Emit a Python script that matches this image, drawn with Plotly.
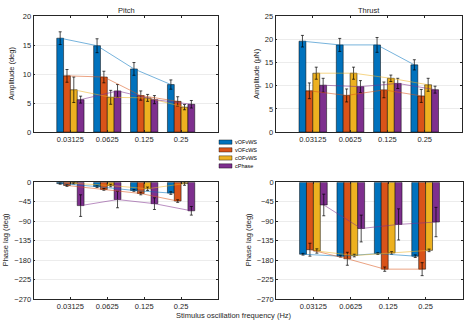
import plotly.graph_objects as go

freq_labels = ["0.03125", "0.0625", "0.125", "0.25"]
series = ["vOFvWS", "vOFcWS", "cOFvWS", "cPhase"]
colors = ["#0072BD", "#D95319", "#EDB120", "#7E2F8E"]
line_colors = ["rgba(0,114,189,0.6)", "rgba(217,83,25,0.6)", "rgba(237,177,32,0.6)", "rgba(126,47,142,0.6)"]

# Pitch amplitude (deg)
pitch_amp = [[16.2, 14.9, 10.9, 8.2], [9.7, 9.5, 6.3, 5.3], [7.3, 6.0, 5.9, 4.3], [5.6, 7.1, 5.6, 4.8]]
pitch_amp_err = [[1.1, 1.2, 1.1, 0.8], [1.1, 1.0, 0.8, 0.8], [2.2, 1.2, 0.6, 0.45], [0.6, 1.1, 0.7, 0.65]]
# Thrust amplitude (uN)
thrust_amp = [[19.6, 18.8, 18.8, 14.5], [8.9, 7.9, 9.1, 7.8], [12.7, 12.7, 11.6, 10.2], [10.1, 9.8, 10.5, 9.15]]
thrust_amp_err = [[1.25, 1.4, 1.6, 1.1], [1.7, 1.4, 1.7, 1.4], [1.3, 1.3, 0.7, 1.4], [1.5, 1.3, 1.1, 0.75]]
# Pitch phase lag (deg)
pitch_ph = [[-3, -10, -19, -25], [-7.5, -16.5, -26, -43.5], [-2.5, -7.5, -15, -3], [-54, -40, -49.5, -66]]
pitch_ph_err = [[1.5, 2, 2, 3], [2, 2, 3, 3], [1.5, 3, 4, 4], [25, 19, 13.5, 10]]
# Thrust phase lag (deg)
thrust_ph = [[-166.5, -171, -165, -171], [-156, -177, -201, -201], [-159, -169.5, -163.5, -157.5], [-52.5, -107, -97.5, -92]]
thrust_ph_err = [[2, 2, 2, 3], [15, 15, 5, 15], [5, 3, 3, 3], [25, 31, 36, 34]]

xpos = [1, 2, 3, 4]
group_width = 0.74
bar_w = group_width / 4
offsets = [(-group_width / 2 + bar_w * (i + 0.5)) for i in range(4)]

W, H = 470, 328
def px_x(a, b):
    return [a / W, b / W]
def px_y(top, bottom):
    return [1 - bottom / H, 1 - top / H]

panels = [
    dict(xa="x", ya="y", xd=px_x(33.5, 218), yd=px_y(12.5, 131.7), yr=[0, 20], data=pitch_amp, err=pitch_amp_err, ticks=[0, 5, 10, 15, 20]),
    dict(xa="x2", ya="y2", xd=px_x(275.5, 462), yd=px_y(12.5, 131.7), yr=[0, 25], data=thrust_amp, err=thrust_amp_err, ticks=[0, 5, 10, 15, 20, 25]),
    dict(xa="x3", ya="y3", xd=px_x(33.5, 218), yd=px_y(183.3, 303.3), yr=[-270, 0], data=pitch_ph, err=pitch_ph_err, ticks=[0, -45, -90, -135, -180, -225, -270]),
    dict(xa="x4", ya="y4", xd=px_x(276, 463), yd=px_y(183.3, 303.3), yr=[-270, 0], data=thrust_ph, err=thrust_ph_err, ticks=[0, -45, -90, -135, -180, -225, -270]),
]

fig = go.Figure()
for pi, p in enumerate(panels):
    for si in range(4):
        fig.add_trace(go.Bar(
            x=[x + offsets[si] for x in xpos], y=p["data"][si], width=bar_w,
            name=series[si], showlegend=False,
            marker=dict(color=colors[si], line=dict(color="black", width=0.5)),
            error_y=dict(type="data", array=p["err"][si], color="black", thickness=0.7, width=1.5),
            xaxis=p["xa"], yaxis=p["ya"],
        ))
    for si in range(4):
        fig.add_trace(go.Scatter(
            x=[x + offsets[si] for x in xpos], y=p["data"][si], mode="lines",
            line=dict(color=line_colors[si], width=0.9), showlegend=False,
            xaxis=p["xa"], yaxis=p["ya"], hoverinfo="skip",
        ))

font = "Liberation Sans, Arial, sans-serif"
layout = dict(
    width=W, height=H, margin=dict(l=0, r=0, t=0, b=0),
    paper_bgcolor="white", plot_bgcolor="white", barmode="overlay", showlegend=False,
    font=dict(family=font, size=7.5, color="#262626"),
)
for pi, p in enumerate(panels):
    xk = "xaxis" if pi == 0 else f"xaxis{pi+1}"
    yk = "yaxis" if pi == 0 else f"yaxis{pi+1}"
    layout[xk] = dict(domain=p["xd"], range=[0, 5], tickvals=xpos, ticktext=freq_labels,
                      anchor=p["ya"], showline=True, linecolor="#262626", linewidth=0.6,
                      mirror="ticks", ticks="inside", ticklen=2, tickcolor="#262626",
                      showgrid=False, zeroline=False, tickfont=dict(size=7.5))
    layout[yk] = dict(domain=p["yd"], range=p["yr"], tickvals=p["ticks"],
                      anchor=p["xa"], showline=True, linecolor="#262626", linewidth=0.6,
                      mirror="ticks", ticks="inside", ticklen=2, tickcolor="#262626",
                      showgrid=True, gridcolor="#ececec", gridwidth=0.5, zeroline=False,
                      tickfont=dict(size=7.5))
fig.update_layout(**layout)

# compact legend (MATLAB style)
leg_x0, leg_x1 = 219, 232
leg_centers = [142, 150, 158.3, 166.5]
for si in range(4):
    yc = leg_centers[si]
    fig.add_shape(type="rect", xref="paper", yref="paper",
                  x0=leg_x0 / W, x1=leg_x1 / W, y0=1 - (yc + 2.2) / H, y1=1 - (yc - 2.2) / H,
                  fillcolor=colors[si], line=dict(color="black", width=0.4))
    fig.add_annotation(text=series[si], x=(leg_x1 + 1) / W, y=1 - yc / H, xref="paper", yref="paper",
                       xanchor="left", yanchor="middle", showarrow=False,
                       font=dict(size=5.5, color="black", family=font))

annots = [
    dict(text="Pitch", x=126 / W, y=1 - 6.5 / H, angle=0),
    dict(text="Thrust", x=369 / W, y=1 - 6.5 / H, angle=0),
    dict(text="Amplitude (deg)", x=11 / W, y=1 - 72 / H, angle=-90),
    dict(text="Amplitude (\u03bcN)", x=256 / W, y=1 - 72 / H, angle=-90),
    dict(text="Phase lag (deg)", x=5 / W, y=1 - 243 / H, angle=-90),
    dict(text="Phase lag (deg)", x=248 / W, y=1 - 243 / H, angle=-90),
    dict(text="Stimulus oscillation frequency (Hz)", x=234 / W, y=1 - 320 / H, angle=0),
]
for a in annots:
    fig.add_annotation(text=a["text"], x=a["x"], y=a["y"], xref="paper", yref="paper",
                       xanchor="center", yanchor="middle", showarrow=False,
                       textangle=a["angle"], font=dict(size=7.5, color="#262626", family=font))

fig.write_html("out.html")
